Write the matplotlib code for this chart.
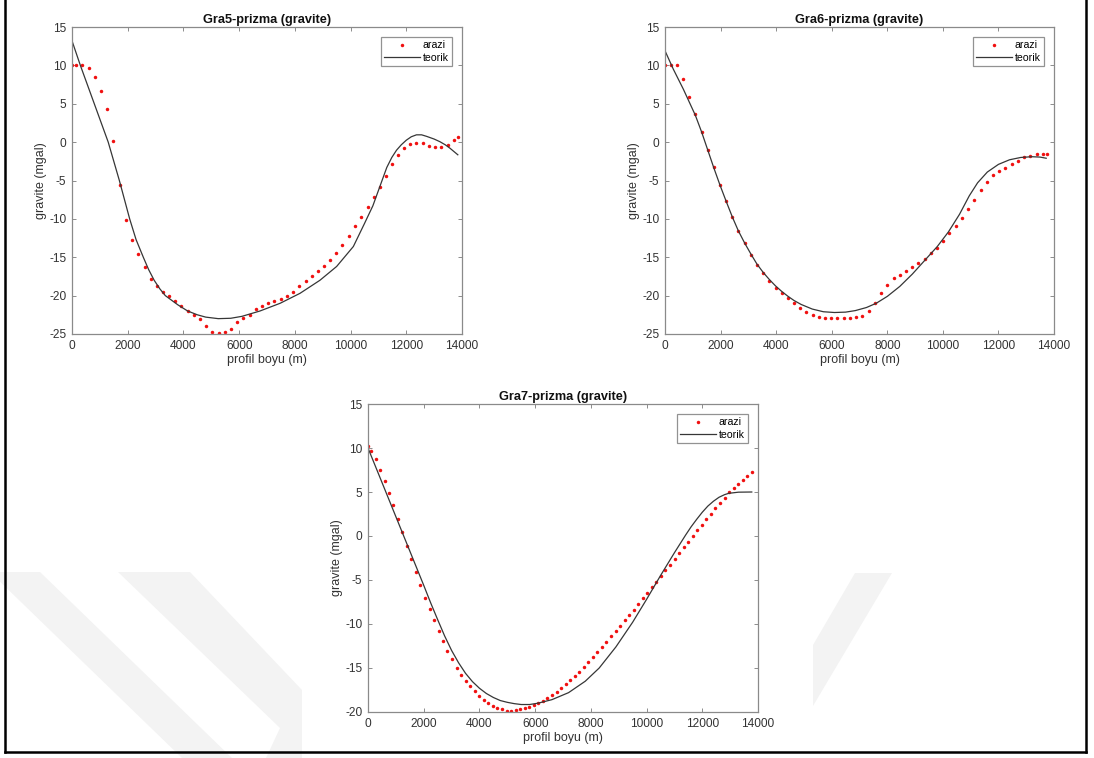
import numpy as np
import matplotlib.pyplot as plt
from matplotlib.lines import Line2D
from matplotlib.patches import Polygon

plt.rcParams['font.family'] = ['Liberation Sans', 'DejaVu Sans']
plt.rcParams['axes.unicode_minus'] = False

W, H = 1094, 758  # figure size in pixels

# --- Gra5 profile: field data (arazi) and model (teorik)
x5_arazi = [0, 150, 370, 600, 815, 1040, 1270, 1485, 1720, 1925, 2155, 2380, 2610, 2835, 3050,
            3255, 3480, 3700, 3925, 4150, 4370, 4585, 4810, 5040, 5265, 5480, 5710, 5935, 6150,
            6380, 6595, 6820, 7050, 7265, 7490, 7705, 7930, 8160, 8385, 8600, 8830, 9045, 9270,
            9485, 9710, 9930, 10155, 10380, 10610, 10825, 11050, 11265, 11490, 11710, 11920,
            12150, 12365, 12590, 12820, 13035, 13260, 13480, 13705, 13850]
g5_arazi = [10, 10, 10, 9.7, 8.45, 6.6, 4.3, 0.1, -5.65, -10.2, -12.8, -14.6, -16.25, -17.8, -18.8,
            -19.5, -20.1, -20.7, -21.3, -21.95, -22.5, -23.1, -23.95, -24.7, -24.9, -24.8, -24.3,
            -23.5, -22.9, -22.5, -21.7, -21.35, -20.9, -20.7, -20.5, -20.05, -19.5, -18.8, -18.1,
            -17.4, -16.8, -16.2, -15.4, -14.5, -13.4, -12.2, -10.9, -9.7, -8.5, -7.2, -5.8, -4.4,
            -2.9, -1.7, -0.8, -0.2, -0.05, -0.15, -0.45, -0.7, -0.7, -0.35, 0.3, 0.7]
x5_teorik = [0, 300, 800, 1300, 1700, 2070, 2300, 2560, 2750, 2950, 3150, 3350, 3800, 4150, 4500,
             4800, 5250, 5700, 6100, 6750, 7470, 8185, 8900, 9500, 10100, 10500, 10800, 11050,
             11300, 11480, 11650, 11820, 12000, 12180, 12365, 12550, 12730, 13000, 13210, 13400,
             13570, 13850]
g5_teorik = [13.2, 10, 5, 0, -5, -10, -12.7, -15, -16.6, -18, -19.1, -20, -21.2, -22, -22.5,
             -22.8, -23.0, -22.95, -22.7, -22.0, -21.0, -19.7, -18.0, -16.2, -13.6, -10.6, -8.3,
             -5.8, -3.3, -2.0, -1.05, -0.35, 0.25, 0.7, 0.95, 0.95, 0.75, 0.4, 0.05, -0.35, -0.8,
             -1.65]

# --- Gra6 profile
x6_arazi = [0, 216, 432, 660, 876, 1092, 1320, 1536, 1752, 1979, 2195, 2423, 2639, 2867, 3095,
            3311, 3539, 3755, 3983, 4199, 4427, 4643, 4871, 5087, 5315, 5543, 5759, 5987, 6203,
            6431, 6647, 6875, 7103, 7342, 7558, 7774, 8002, 8231, 8458, 8674, 8902, 9118, 9346,
            9574, 9790, 10018, 10234, 10463, 10690, 10918, 11134, 11362, 11578, 11805, 12021,
            12249, 12478, 12694, 12921, 13150, 13378, 13604, 13760]
g6_arazi = [10.05, 10.05, 10.05, 8.2, 5.9, 3.6, 1.3, -1.0, -3.3, -5.6, -7.65, -9.75, -11.6, -13.2,
            -14.7, -16.0, -17.1, -18.05, -18.95, -19.65, -20.3, -20.95, -21.6, -22.1, -22.5, -22.8,
            -22.9, -22.95, -22.95, -22.95, -22.9, -22.8, -22.65, -22.0, -21.0, -19.7, -18.6, -17.75,
            -17.3, -16.75, -16.3, -15.8, -15.2, -14.5, -13.8, -12.9, -11.9, -10.9, -9.9, -8.7, -7.5,
            -6.3, -5.2, -4.3, -3.8, -3.4, -2.9, -2.4, -2.0, -1.75, -1.55, -1.5, -1.5]
x6_teorik = [0, 300, 660, 1092, 1320, 1536, 1752, 1979, 2195, 2423, 2639, 2867, 3095, 3311, 3539,
             3755, 3983, 4200, 4430, 4650, 4900, 5300, 5700, 6100, 6500, 6850, 7250, 7600, 8000,
             8450, 8900, 9350, 9800, 10200, 10600, 10950, 11250, 11600, 12000, 12400, 12800,
             13200, 13500, 13720]
g6_teorik = [11.9, 9.5, 6.9, 3.5, 1.3, -1.0, -3.3, -5.6, -7.65, -9.75, -11.55, -13.15, -14.6,
             -15.9, -17.0, -17.9, -18.75, -19.45, -20.1, -20.65, -21.15, -21.75, -22.1, -22.2,
             -22.15, -21.95, -21.55, -21.0, -20.1, -18.8, -17.2, -15.4, -13.6, -11.7, -9.4, -7.0,
             -5.3, -3.9, -2.9, -2.3, -2.0, -1.9, -1.95, -2.1]

# --- Gra7 profile
x7_arazi = [0, 108, 275, 443, 598, 754, 909, 1065, 1220, 1388, 1556, 1711, 1879, 2046, 2214, 2369,
            2537, 2692, 2848, 3015, 3183, 3338, 3506, 3662, 3829, 3997, 4152, 4320, 4475, 4643,
            4810, 4978, 5133, 5301, 5456, 5624, 5792, 5947, 6115, 6278, 6441, 6604, 6767, 6930,
            7093, 7256, 7419, 7582, 7745, 7908, 8071, 8234, 8397, 8560, 8723, 8886, 9049, 9212,
            9375, 9538, 9701, 9864, 10027, 10190, 10353, 10516, 10679, 10842, 11005, 11168,
            11331, 11494, 11657, 11820, 11983, 12146, 12309, 12472, 12635, 12798, 12961, 13124,
            13287, 13450, 13613, 13776]
g7_arazi = [10.27, 9.66, 8.71, 7.54, 6.25, 4.89, 3.49, 1.97, 0.45, -1.1, -2.58, -4.05, -5.57, -7.0,
            -8.3, -9.55, -10.8, -11.93, -13.03, -14.0, -14.96, -15.8, -16.5, -17.05, -17.6, -18.2,
            -18.6, -19.0, -19.3, -19.6, -19.7, -19.85, -19.85, -19.8, -19.7, -19.6, -19.4, -19.2,
            -18.95, -18.7, -18.4, -18.05, -17.7, -17.3, -16.85, -16.4, -15.9, -15.4, -14.85, -14.3,
            -13.75, -13.2, -12.6, -12.0, -11.4, -10.8, -10.2, -9.6, -9.0, -8.4, -7.75, -7.1, -6.5,
            -5.85, -5.2, -4.55, -3.9, -3.25, -2.6, -1.95, -1.3, -0.65, 0.0, 0.65, 1.3, 1.95, 2.55,
            3.15, 3.75, 4.35, 4.95, 5.45, 5.9, 6.35, 6.8, 7.25]
x7_teorik = [0, 1000, 2000, 2250, 2500, 2750, 3000, 3250, 3500, 3750, 4000, 4250, 4500, 4750, 5000,
             5250, 5500, 5800, 6100, 6600, 7200, 7800, 8300, 8900, 9500, 10000, 10500, 11000,
             11200, 11400, 11600, 11800, 12000, 12200, 12400, 12600, 12800, 12950, 13300, 13776]
g7_teorik = [10.0, 2.2, -5.6, -7.6, -9.5, -11.35, -13.0, -14.4, -15.6, -16.55, -17.3, -17.9, -18.35,
             -18.7, -18.9, -19.05, -19.15, -19.15, -19.0, -18.6, -17.8, -16.5, -15.0, -12.6, -9.8,
             -7.2, -4.5, -1.9, -0.9, 0.1, 1.05, 1.9, 2.7, 3.4, 3.95, 4.4, 4.7, 4.85, 4.98, 5.0]

titles = ['Gra5-prizma (gravite)', 'Gra6-prizma (gravite)', 'Gra7-prizma (gravite)']
xticks = [0, 2000, 4000, 6000, 8000, 10000, 12000, 14000]


def box(l, t, r, b):
    # pixel box (top-left origin) -> figure fraction rect
    return [l / W, 1 - b / H, (r - l) / W, (b - t) / H]


def draw(ax, xa, ga, xt, gt, title, ymin):
    ax.plot(xa, ga, 'o', color='#f01010', ms=2.5, mew=0, label='arazi')
    ax.plot(xt, gt, '-', color='#363636', lw=0.9, label='teorik')
    ax.set_xlim(0, 14000)
    ax.set_ylim(ymin, 15)
    ax.set_xticks(xticks)
    ax.set_yticks(np.arange(ymin, 16, 5))
    ax.set_title(title, fontsize=9.2, fontweight='bold', pad=3, color='#111111')
    ax.set_xlabel('profil boyu (m)', fontsize=9, labelpad=2, color='#333333')
    ax.set_ylabel('gravite (mgal)', fontsize=9, labelpad=2, color='#333333')
    ax.tick_params(direction='in', length=3, width=0.6, colors='#7a7a7a', labelcolor='#333333',
                   labelsize=8.6, top=True, right=True, pad=4)
    for s in ax.spines.values():
        s.set_color('#8a8a8a')
        s.set_linewidth(0.9)
    leg = ax.legend(loc='upper right', fontsize=7.6, frameon=True, fancybox=False,
                    handlelength=3.4, handletextpad=0.25, labelspacing=0.25,
                    borderaxespad=0.95, borderpad=0.3, numpoints=1)
    leg.get_frame().set_edgecolor('#777777')
    leg.get_frame().set_linewidth(0.9)


fig = plt.figure(figsize=(W / 100, H / 100), dpi=100)
fig.patch.set_facecolor('white')

ax5 = fig.add_axes(box(72, 27, 462, 334))
ax6 = fig.add_axes(box(665, 27, 1054, 334))
ax7 = fig.add_axes(box(368, 404, 758, 712))

draw(ax5, x5_arazi, g5_arazi, x5_teorik, g5_teorik, titles[0], -25)
draw(ax6, x6_arazi, g6_arazi, x6_teorik, g6_teorik, titles[1], -25)
draw(ax7, x7_arazi, g7_arazi, x7_teorik, g7_teorik, titles[2], -20)

# faint background stripes in the lower part of the page
stripes = [
    [(-10, 572), (40, 572), (232, 758), (182, 758)],
    [(118, 572), (190, 572), (302, 690), (302, 758), (266, 758), (280, 728)],
    [(855, 573), (892, 573), (813, 706), (813, 645)],
]
for pts in stripes:
    fig.add_artist(Polygon([(x / W, 1 - y / H) for x, y in pts], closed=True,
                           transform=fig.transFigure, facecolor='#f3f3f3',
                           edgecolor='none', zorder=-1))

# page frame
frame = dict(transform=fig.transFigure, color='black', lw=1.8)
fig.add_artist(Line2D([5 / W, 5 / W], [1, 1 - 752 / H], **frame))
fig.add_artist(Line2D([5 / W, 1086 / W], [1 - 752 / H, 1 - 752 / H], **frame))
fig.add_artist(Line2D([1086 / W, 1086 / W], [1, 1 - 752 / H], **frame))

fig.savefig('out.png', dpi=100)
